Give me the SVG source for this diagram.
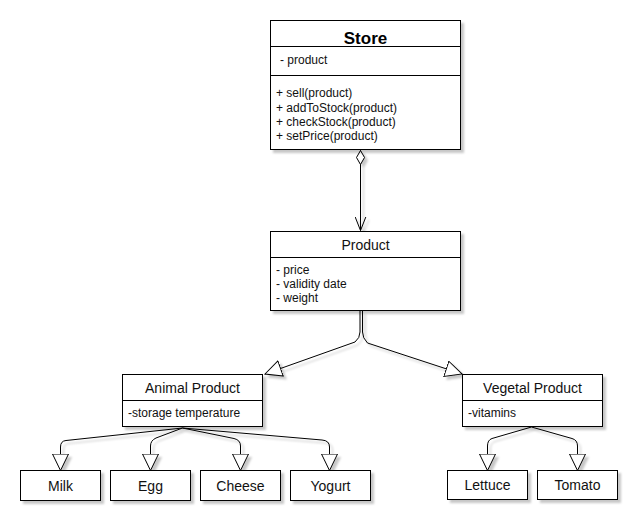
<svg xmlns="http://www.w3.org/2000/svg" width="644" height="527" viewBox="0 0 644 527">
<style>
  .box { fill: #ffffff; stroke: #000000; stroke-width: 1; }
  .sep { stroke: #000000; stroke-width: 1; fill: none; }
  .edge { fill: none; stroke: #000000; stroke-width: 1; }
  text { font-family: "Liberation Sans", Arial, sans-serif; fill: #111111; }
  .title { font-size: 14px; text-anchor: middle; }
  .store { font-size: 17px; font-weight: bold; text-anchor: middle; fill: #000000; }
  .attr { font-size: 12px; }
  .sh { filter: url(#shadow); }
</style>
<defs>
  <filter id="shadow" x="-10%" y="-10%" width="130%" height="140%">
    <feDropShadow dx="3" dy="3" stdDeviation="1.2" flood-color="#000000" flood-opacity="0.22"/>
  </filter>
  <marker id="tri" viewBox="0 0 18 18" markerWidth="18" markerHeight="18" refX="17" refY="9" orient="auto" markerUnits="userSpaceOnUse">
    <path d="M0.5,1 L17,9 L0.5,17 Z" fill="#ffffff" stroke="#000000" stroke-width="1"/>
  </marker>
  <marker id="diamond" viewBox="0 0 16 10" markerWidth="16" markerHeight="10" refX="0" refY="5" orient="auto" markerUnits="userSpaceOnUse">
    <path d="M0.5,5 L7.5,1 L14.5,5 L7.5,9 Z" fill="#ffffff" stroke="#000000" stroke-width="1"/>
  </marker>
  <marker id="open" viewBox="0 0 15 12" markerWidth="15" markerHeight="12" refX="14" refY="6" orient="auto" markerUnits="userSpaceOnUse">
    <path d="M0,0.5 L14,6 L0,11.5" fill="none" stroke="#000000" stroke-width="1"/>
  </marker>
</defs>

<g id="connectors" class="sh">
  <path class="edge" d="M360.5,150 L360.5,230.5" marker-start="url(#diamond)" marker-end="url(#open)"/>
  <path class="edge" d="M360,311 L360,332 Q360,338 355,342 L265,374" marker-end="url(#tri)"/>
  <path class="edge" d="M362.5,311 L362.5,332 Q362.5,338 367.5,343 L462,374" marker-end="url(#tri)"/>
  <path class="edge" d="M182.5,428 L66,440.5 Q60.5,441 60.5,447 L60.5,470.5" marker-end="url(#tri)"/>
  <path class="edge" d="M182.5,428 L156,438 Q150.5,440.5 150.5,446 L150.5,470.5" marker-end="url(#tri)"/>
  <path class="edge" d="M182.5,428 L234,438.5 Q240.5,440 240.5,446 L240.5,470.5" marker-end="url(#tri)"/>
  <path class="edge" d="M182.5,428 L322,440 Q329.5,440.5 329.5,447 L329.5,470.5" marker-end="url(#tri)"/>
  <path class="edge" d="M531.5,427 L492,438.5 Q487.5,440 487.5,446 L487.5,470.5" marker-end="url(#tri)"/>
  <path class="edge" d="M531.5,427 L572,438.5 Q577.5,440 577.5,446 L577.5,470.5" marker-end="url(#tri)"/>
</g>

<g id="store">
  <rect class="box sh" x="270.5" y="20.5" width="190" height="129"/>
  <line class="sep" x1="270.5" y1="46.5" x2="460.5" y2="46.5"/>
  <line class="sep" x1="270.5" y1="75.5" x2="460.5" y2="75.5"/>
  <text class="store" x="365.5" y="44">Store</text>
  <text class="attr" x="280" y="64">- product</text>
  <text class="attr" x="276" y="97">+ sell(product)</text>
  <text class="attr" x="276" y="111.5">+ addToStock(product)</text>
  <text class="attr" x="276" y="126">+ checkStock(product)</text>
  <text class="attr" x="276" y="140">+ setPrice(product)</text>
</g>

<g id="product">
  <rect class="box sh" x="270.5" y="231.5" width="190" height="79"/>
  <line class="sep" x1="270.5" y1="257.5" x2="460.5" y2="257.5"/>
  <text class="title" x="365.5" y="249.5">Product</text>
  <text class="attr" x="276" y="274">- price</text>
  <text class="attr" x="276" y="288">- validity date</text>
  <text class="attr" x="276" y="302">- weight</text>
</g>

<g id="animal-product">
  <rect class="box sh" x="122.5" y="374.5" width="140" height="52"/>
  <line class="sep" x1="122.5" y1="400.5" x2="262.5" y2="400.5"/>
  <text class="title" x="192.5" y="392.5">Animal Product</text>
  <text class="attr" x="128" y="417">-storage temperature</text>
</g>

<g id="vegetal-product">
  <rect class="box sh" x="462.5" y="374.5" width="140" height="52"/>
  <line class="sep" x1="462.5" y1="400.5" x2="602.5" y2="400.5"/>
  <text class="title" x="532.5" y="392.5">Vegetal Product</text>
  <text class="attr" x="468" y="417">-vitamins</text>
</g>

<g id="milk">
  <rect class="box sh" x="20.5" y="470.5" width="80" height="30"/>
  <text class="title" x="60.5" y="490.5">Milk</text>
</g>
<g id="egg">
  <rect class="box sh" x="110.5" y="470.5" width="80" height="30"/>
  <text class="title" x="150.5" y="490.5">Egg</text>
</g>
<g id="cheese">
  <rect class="box sh" x="200.5" y="470.5" width="80" height="30"/>
  <text class="title" x="240.5" y="490.5">Cheese</text>
</g>
<g id="yogurt">
  <rect class="box sh" x="290.5" y="470.5" width="80" height="30"/>
  <text class="title" x="330.5" y="490.5">Yogurt</text>
</g>
<g id="lettuce">
  <rect class="box sh" x="447.5" y="470.5" width="80" height="29"/>
  <text class="title" x="487.5" y="490">Lettuce</text>
</g>
<g id="tomato">
  <rect class="box sh" x="537.5" y="470.5" width="80" height="29"/>
  <text class="title" x="577.5" y="490">Tomato</text>
</g>
</svg>
